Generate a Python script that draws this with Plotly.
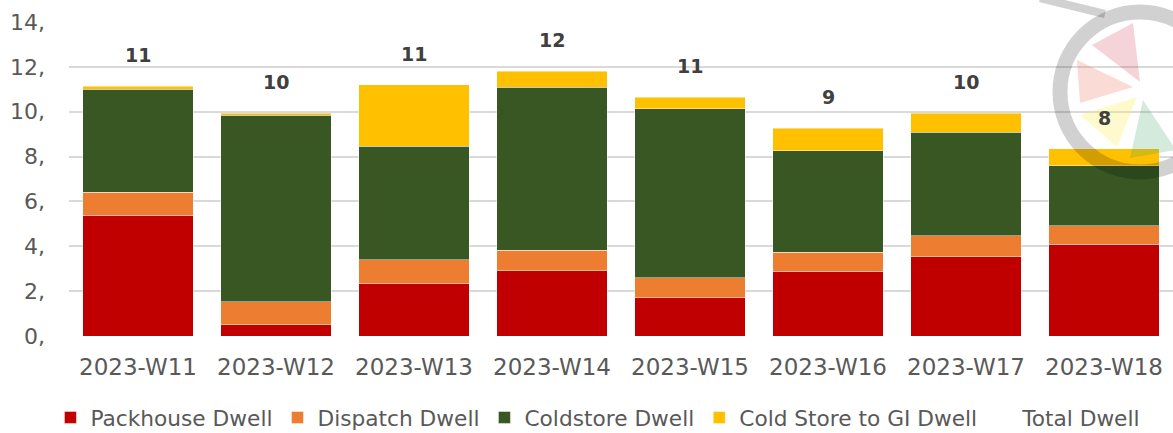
import plotly.graph_objects as go

categories = ["2023-W11", "2023-W12", "2023-W13", "2023-W14",
              "2023-W15", "2023-W16", "2023-W17", "2023-W18"]
packhouse = [5.39, 0.50, 2.32, 2.91, 1.71, 2.88, 3.54, 4.10]
dispatch = [1.03, 1.02, 1.07, 0.91, 0.88, 0.85, 0.93, 0.82]
coldstore = [4.59, 8.33, 5.08, 7.28, 7.54, 4.52, 4.62, 2.66]
cold_to_gi = [0.12, 0.09, 2.73, 0.70, 0.52, 1.01, 0.85, 0.76]
y_tickvals = [0, 2, 4, 6, 8, 10, 12, 14]
y_ticktext = ["0,", "2,", "4,", "6,", "8,", "10,", "12,", "14,"]

totals = [a + b + c + d for a, b, c, d in zip(packhouse, dispatch, coldstore, cold_to_gi)]

FONT = "DejaVu Sans"
GRAY = "#595959"

fig = go.Figure()
series = [
    ("Packhouse Dwell", packhouse, "#C00000"),
    ("Dispatch Dwell", dispatch, "#ED7D31"),
    ("Coldstore Dwell", coldstore, "#385723"),
    ("Cold Store to GI Dwell", cold_to_gi, "#FFC000"),
]
for name, vals, col in series:
    fig.add_trace(go.Bar(
        x=categories, y=vals, name=name,
        marker=dict(color=col, line=dict(color="rgba(255,255,255,0.45)", width=1)),
    ))

fig.add_trace(go.Scatter(
    x=categories, y=totals, name="Total Dwell", mode="lines",
    line=dict(width=0, color="rgba(0,0,0,0)"), hoverinfo="skip",
))

for c, t in zip(categories, totals):
    fig.add_annotation(x=c, y=t, text=f"<b>{round(t)}</b>", showarrow=False,
                       yanchor="middle", yshift=31,
                       font=dict(family=FONT, size=19, color="#404040"))

# decorative watermark logo (pixel -> paper conversion)
L, R, T, B = 69, 1173, 22, 336
def px(x):
    return (x - L) / (R - L)
def py(y):
    return (B - y) / (B - T)

cx, cy, rad = 1140, 92, 80
def poly(points):
    return "M " + " L ".join(f"{px(a):.4f},{py(b):.4f}" for a, b in points) + " Z"

slices = [
    ([(1092, 45), (1133, 23), (1140, 82)], "rgba(205,60,80,0.22)"),
    ([(1077, 60), (1080, 103), (1133, 87)], "rgba(235,110,90,0.25)"),
    ([(1080, 115), (1137, 97), (1117, 147)], "rgba(255,240,90,0.30)"),
    ([(1143, 100), (1176, 150), (1130, 158)], "rgba(60,160,100,0.22)"),
]
for pts, col in slices:
    fig.add_shape(type="path", xref="paper", yref="paper", path=poly(pts),
                  fillcolor=col, line=dict(width=0), layer="above")
fig.add_shape(type="circle", xref="paper", yref="paper",
              x0=px(cx - rad), x1=px(cx + rad), y0=py(cy + rad), y1=py(cy - rad),
              line=dict(color="rgba(0,0,0,0.18)", width=15), fillcolor="rgba(0,0,0,0)",
              layer="above")
fig.add_shape(type="path", xref="paper", yref="paper",
              path=f"M {px(1040):.4f},{py(-2):.4f} Q {px(1080):.4f},{py(8):.4f} {px(1105):.4f},{py(14):.4f}",
              line=dict(color="rgba(0,0,0,0.18)", width=8), layer="above")

fig.update_layout(
    width=1173, height=433,
    margin=dict(l=L, r=0, t=T, b=433 - B, autoexpand=False),
    barmode="stack", bargap=0.2,
    plot_bgcolor="white", paper_bgcolor="white",
    font=dict(family=FONT, color=GRAY, size=23),
    showlegend=True,
    legend=dict(orientation="h", xref="container", yref="container",
                x=0.043, xanchor="left", y=0.035, yanchor="middle",
                font=dict(family=FONT, size=21.7, color=GRAY),
                traceorder="normal", bgcolor="rgba(0,0,0,0)"),
    xaxis=dict(showgrid=False, showline=False, zeroline=False,
               ticklabelstandoff=15, tickfont=dict(size=23, color=GRAY)),
    yaxis=dict(range=[0, 14], tickvals=y_tickvals, ticktext=y_ticktext,
               showgrid=True, gridcolor="#D9D9D9", gridwidth=2,
               zeroline=False, showline=False, ticklabelstandoff=23,
               tickfont=dict(size=22, color=GRAY)),
)

fig.write_html("out.html", config={"displayModeBar": False})
with open("out.html", "r", encoding="utf-8") as f:
    html = f.read()
html = html.replace("<head>", "<head><style>html,body{margin:0;padding:0;overflow:hidden;}</style>", 1)
with open("out.html", "w", encoding="utf-8") as f:
    f.write(html)
